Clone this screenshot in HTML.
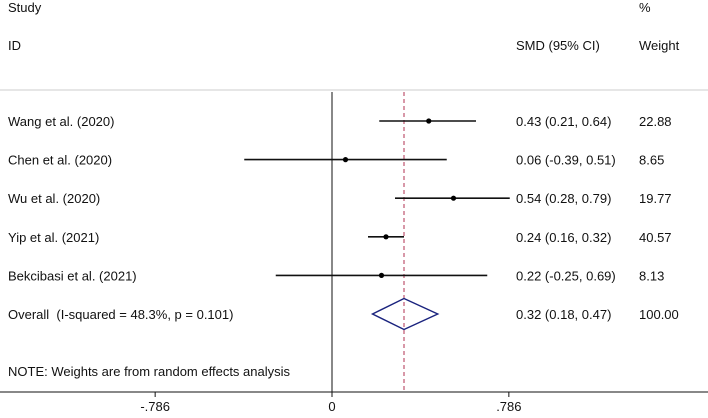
<!DOCTYPE html>
<html><head><meta charset="utf-8"><style>
body{margin:0;background:#fff}
svg text{font-family:"Liberation Sans",sans-serif;font-size:13px;fill:#111;white-space:pre}
</style></head><body>
<svg id="c" width="708" height="413" xmlns="http://www.w3.org/2000/svg">
<text x="8" y="12">Study</text>
<text x="8" y="50">ID</text>
<text x="516" y="50">SMD (95% CI)</text>
<text x="639" y="12">%</text>
<text x="639" y="50">Weight</text>
<line x1="0" y1="90" x2="708" y2="90" stroke="#ddd" stroke-width="1.5"/>
<g id="marks"></g>
<text x="8" y="376">NOTE: Weights are from random effects analysis</text>
<line x1="0" y1="392" x2="708" y2="392" stroke="#111" stroke-width="1"/>
<g id="ticks"></g>
</svg>
<script>
const studies=["Wang et al. (2020)","Chen et al. (2020)","Wu et al. (2020)","Yip et al. (2021)","Bekcibasi et al. (2021)"];
const smd=[0.43,0.06,0.54,0.24,0.22];
const lower=[0.21,-0.39,0.28,0.16,-0.25];
const upper=[0.64,0.51,0.79,0.32,0.69];
const weights=["22.88","8.65","19.77","40.57","8.13"];
const overall=[0.32,0.18,0.47];
const overallWeight="100.00";
const tickVals=[-0.786,0,0.786];
const tickLabels=["-.786","0",".786"];
const X=v=>332+v*225;
const rowY=i=>121+i*38.6;
const NS="http://www.w3.org/2000/svg";
const g=document.getElementById('marks');
function mk(tag,attrs,parent){const e=document.createElementNS(NS,tag);for(const k in attrs)e.setAttribute(k,attrs[k]);(parent||g).appendChild(e);return e;}
const zl=mk('line',{x1:X(0),y1:92,x2:X(0),y2:392,stroke:'#111','stroke-width':1});


const dl=mk('line',{x1:X(overall[0]),y1:92,x2:X(overall[0]),y2:392,stroke:'#b03050','stroke-width':1,'stroke-dasharray':'4,3'});


const fmt=v=>v.toFixed(2);
studies.forEach((s,i)=>{
  const y=rowY(i);
  const l=mk('text',{x:8,y:y+5});l.textContent=s;
  
  
  const ci=mk('line',{x1:X(lower[i]),y1:y,x2:X(upper[i]),y2:y,stroke:'#111','stroke-width':1.6});
  
  
  const p=mk('circle',{cx:X(smd[i]),cy:y,r:2.6,fill:'#000'});
  
  
  const t=mk('text',{x:516,y:y+5});t.textContent=fmt(smd[i])+" ("+fmt(lower[i])+", "+fmt(upper[i])+")";
  
  
  const w=mk('text',{x:639,y:y+5});w.textContent=weights[i];
  
  
});
const oy=rowY(5);
const ol=mk('text',{x:8,y:oy+5});ol.textContent="Overall  (I-squared = 48.3%, p = 0.101)";


const dm=mk('polygon',{points:`${X(overall[1])},${oy} ${X(overall[0])},${oy-15.5} ${X(overall[2])},${oy} ${X(overall[0])},${oy+15.5}`,fill:'none',stroke:'#1a237e','stroke-width':1.4});


const ot=mk('text',{x:516,y:oy+5});ot.textContent=fmt(overall[0])+" ("+fmt(overall[1])+", "+fmt(overall[2])+")";


const ow=mk('text',{x:639,y:oy+5});ow.textContent=overallWeight;


const tg=document.getElementById('ticks');
tickVals.forEach((v,i)=>{
  const tk=mk('line',{x1:X(v),y1:392,x2:X(v),y2:397,stroke:'#111'},tg);
  
  
  const tl=mk('text',{x:X(v),y:411,'text-anchor':'middle'},tg);tl.textContent=tickLabels[i];
  
  
});
</script>
</body></html>
